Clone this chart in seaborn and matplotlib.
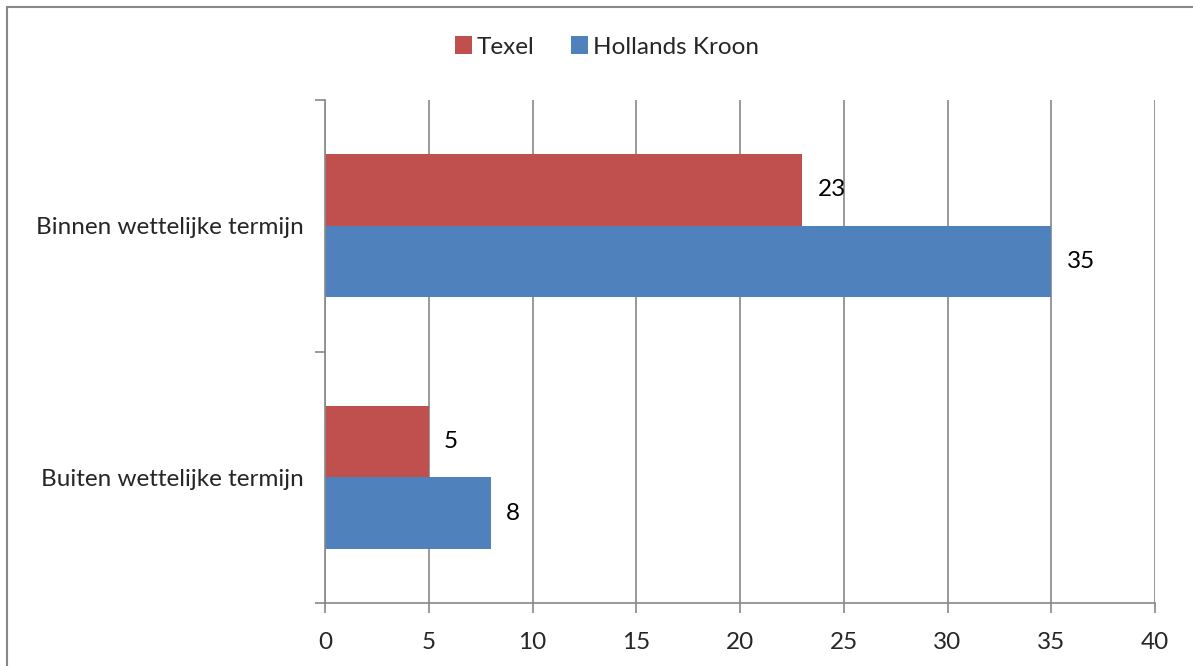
import matplotlib
matplotlib.use("Agg")
import matplotlib.pyplot as plt
import seaborn as sns
import pandas as pd
from matplotlib.patches import Rectangle, Patch
from matplotlib.ticker import FixedLocator

categories = ["Binnen wettelijke termijn", "Buiten wettelijke termijn"]
series = ["Texel", "Hollands Kroon"]
texel_values = [23, 5]
hollands_kroon_values = [35, 8]
x_ticks = [0, 5, 10, 15, 20, 25, 30, 35, 40]

colors = {"Texel": "#C0504D", "Hollands Kroon": "#4F81BD"}

df = pd.DataFrame({
    "category": categories * 2,
    "series": [series[0]] * 2 + [series[1]] * 2,
    "value": texel_values + hollands_kroon_values,
})

sns.set_style("white")
plt.rcParams['font.family'] = ['Lato', 'DejaVu Sans']

FS = 17.5

fig = plt.figure(figsize=(11.93, 6.66), dpi=100)
ax = fig.add_axes([325/1193, 1-603/666, (1155-325)/1193, (603-100)/666])

sns.barplot(data=df, y="category", x="value", hue="series", order=categories,
            hue_order=series, palette=colors, orient="h", width=0.57,
            saturation=1, ax=ax, legend=False, linewidth=0)

for cont in ax.containers:
    ax.bar_label(cont, padding=11, fontsize=FS, color="black")

ax.set_xlim(0, 40)
ax.set_ylim(1.5, -0.5)
ax.set_xticks(x_ticks)
ax.set_xticklabels([str(t) for t in x_ticks], fontsize=FS)
ax.set_xlabel("")
ax.set_ylabel("")
ax.tick_params(axis="x", bottom=True, direction="out", length=7, width=1.2,
               color="#888888", pad=14)
ax.tick_params(axis="y", which="major", left=True, length=0, pad=15, labelsize=FS)
ax.yaxis.set_minor_locator(FixedLocator([-0.5, 0.5, 1.5]))
ax.tick_params(axis="y", which="minor", left=True, direction="out", length=7,
               width=1.2, color="#888888")
ax.grid(axis="x", color="#888888", linewidth=1.2)
ax.set_axisbelow(True)
for side in ["top", "right"]:
    ax.spines[side].set_visible(False)
for side in ["left", "bottom"]:
    ax.spines[side].set_color("#888888")
    ax.spines[side].set_linewidth(1.2)

handles = [Patch(facecolor=colors[s], edgecolor="none", label=s) for s in series]
fig.legend(handles=handles, loc="center", bbox_to_anchor=(607/1193, 1-47/666),
           ncol=2, frameon=False, fontsize=FS, handlelength=0.7, handleheight=0.7,
           handletextpad=0.2, columnspacing=1.5)

fig.patches.append(Rectangle((7/1193, -0.1), 1.2, 1.1 - 7/666, transform=fig.transFigure,
                             fill=False, edgecolor="#888888", linewidth=1.5))

fig.savefig("out.png", dpi=100)
